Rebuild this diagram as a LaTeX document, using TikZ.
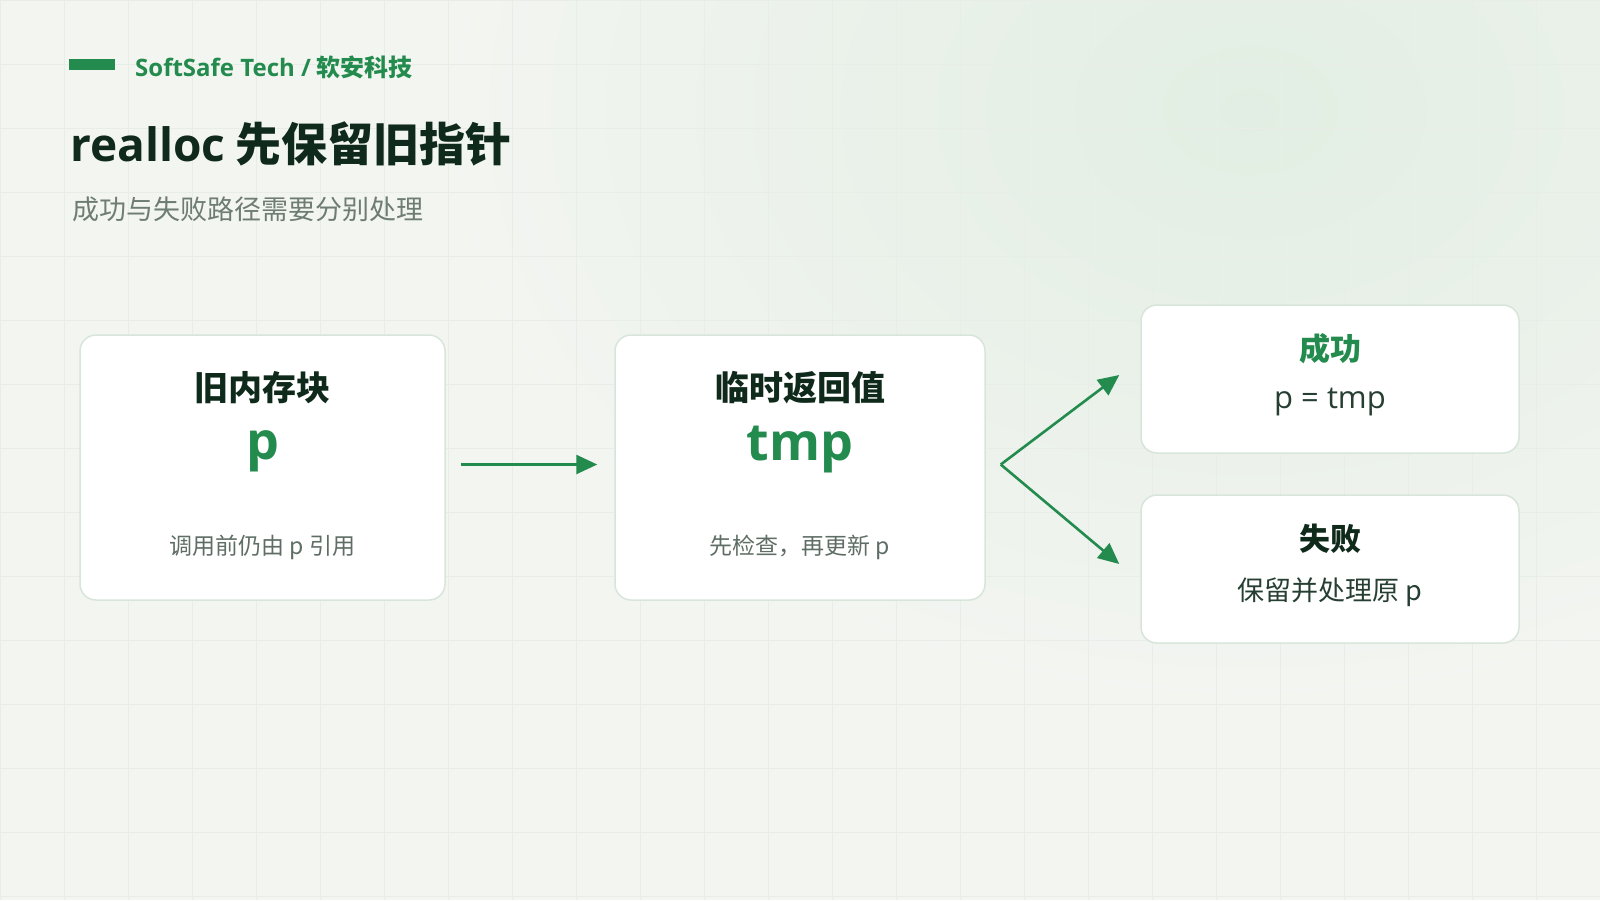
\documentclass[tikz,border=0pt]{standalone}
\usepackage{fontspec}
\setmainfont{Noto Sans CJK SC}
\newfontfamily\latinfont{Open Sans}
\usetikzlibrary{arrows.meta,positioning}

\definecolor{pagebg}{HTML}{F3F5F1}
\definecolor{gridline}{HTML}{E8EDE8}
\definecolor{glow}{HTML}{E2EEE3}
\definecolor{accent}{HTML}{238B4D}
\definecolor{ink}{HTML}{0F2A1B}
\definecolor{softink}{HTML}{6E7C73}
\definecolor{noteink}{HTML}{5F6E65}
\definecolor{cardline}{HTML}{D8E5DB}

\begin{document}
\begin{tikzpicture}[x=1pt,y=-1pt,
    card/.style={draw=cardline,line width=1.5pt,fill=white,rounded corners=16pt,inner sep=0pt},
    cardtitle/.style={anchor=base,inner sep=0pt,text=ink,font=\fontsize{34}{40}\selectfont\bfseries},
    smalltitle/.style={anchor=base,inner sep=0pt,text=ink,font=\fontsize{31}{36}\selectfont\bfseries},
    bigvar/.style={anchor=base,inner sep=0pt,text=accent,font=\fontsize{52}{60}\selectfont\bfseries\latinfont},
    cardnote/.style={anchor=base,inner sep=0pt,text=noteink,font=\fontsize{23}{28}\selectfont},
    cardline/.style={anchor=base,inner sep=0pt,text=ink!90,font=\fontsize{27}{32}\selectfont},
    flow/.style={draw=accent,line width=2.6pt,-{Triangle[length=21pt,width=19pt]}}]
  \useasboundingbox (0,0) rectangle (1600,900);
  % background, glow and grid
  \fill[pagebg] (0,0) rectangle (1600,900);
  \begin{scope}
    \clip (0,0) rectangle (1600,900);
    \shade[inner color=glow,outer color=pagebg] (1250,110) ellipse (820 and 600);
  \end{scope}
  \foreach \gx in {0,64,...,1600} \draw[gridline,line width=1pt] (\gx,0) -- (\gx,900);
  \foreach \gy in {0,64,...,896} \draw[gridline,line width=1pt] (0,\gy) -- (1600,\gy);

  % header
  \fill[accent] (69,59) rectangle (115,70);
  \node[anchor=base west,inner sep=0pt,text=accent,font=\fontsize{24}{28}\selectfont\bfseries]
    (brand) at (135,76) {{\latinfont SoftSafe Tech /} 软安科技};
  \node[anchor=base west,inner sep=0pt,text=ink,font=\fontsize{46}{54}\selectfont\bfseries]
    (title) at (70,161) {{\latinfont realloc} 先保留旧指针};
  \node[anchor=base west,inner sep=0pt,text=softink,font=\fontsize{27}{32}\selectfont]
    (subtitle) at (72,219) {成功与失败路径需要分别处理};

  % cards
  \node[card,minimum width=365pt,minimum height=265pt] (old) at (262.5,467.5) {};
  \node[card,minimum width=370pt,minimum height=265pt] (tmpv) at (800,467.5) {};
  \node[card,minimum width=378pt,minimum height=148pt] (ok) at (1330,379) {};
  \node[card,minimum width=378pt,minimum height=148pt] (fail) at (1330,569) {};

  \node[cardtitle] (oldtitle) at ([yshift=-66pt]old.north) {旧内存块};
  \node[bigvar] (oldvar) at ([yshift=-125pt]old.north) {p};
  \node[cardnote] (oldnote) at ([yshift=-220pt]old.north) {调用前仍由 p 引用};

  \node[cardtitle] (tmptitle) at ([yshift=-66pt]tmpv.north) {临时返回值};
  \node[bigvar] (tmpvar) at ([yshift=-126pt]tmpv.north) {tmp};
  \node[cardnote] (tmpnote) at ([yshift=-220pt]tmpv.north) {先检查，再更新 p};

  \node[smalltitle,text=accent] (oktitle) at ([yshift=-56pt]ok.north) {成功};
  \node[cardline,font=\fontsize{31}{36}\selectfont\latinfont] (okline) at ([yshift=-104pt]ok.north) {p = tmp};

  \node[smalltitle] (failtitle) at ([yshift=-56pt]fail.north) {失败};
  \node[cardline] (failline) at ([yshift=-106pt]fail.north) {保留并处理原 p};

  % connectors
  \draw[flow] ([xshift=15pt,yshift=3pt]old.east) -- ([xshift=-17pt,yshift=3pt]tmpv.west);
  \coordinate (fork) at ([xshift=15pt,yshift=3pt]tmpv.east);
  \draw[flow] (fork) -- ([xshift=-21pt,yshift=4pt]ok.west);
  \draw[flow] (fork) -- ([xshift=-21pt,yshift=5pt]fail.west);
\end{tikzpicture}
\end{document}
